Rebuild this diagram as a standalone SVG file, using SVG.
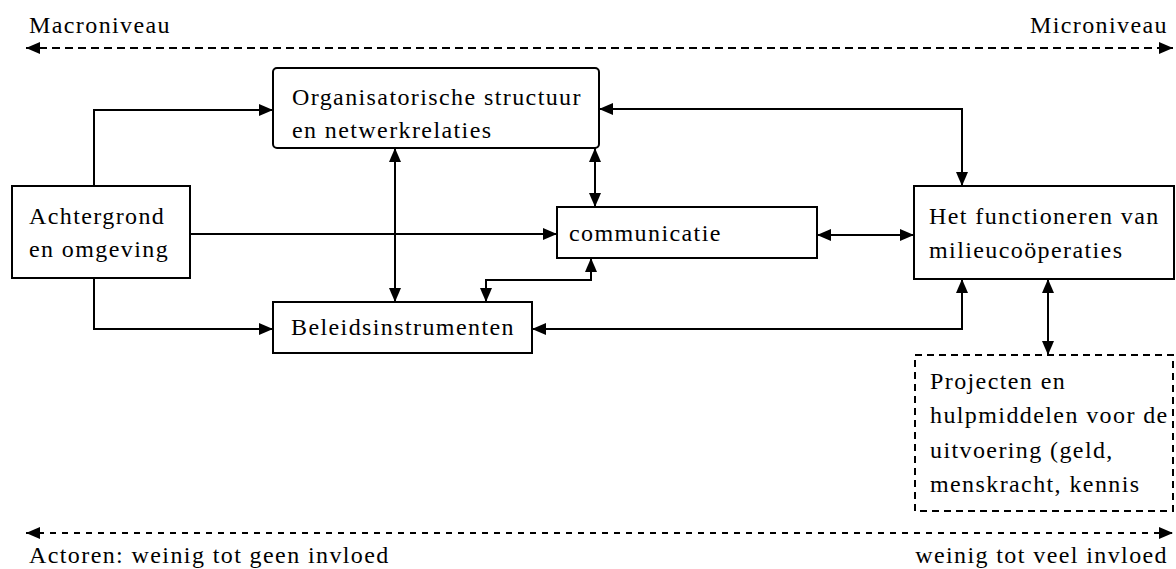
<svg xmlns="http://www.w3.org/2000/svg" width="1176" height="569" viewBox="0 0 1176 569">
<style>
text{font-family:'Liberation Serif', 'Times New Roman', Times, serif;font-size:24px;letter-spacing:1.4px;fill:#000}
.box{fill:#fff;stroke:#000;stroke-width:2}
.dbox{fill:#fff;stroke:#000;stroke-width:2;stroke-dasharray:7 5}
.c{fill:none;stroke:#000;stroke-width:2}
.d{fill:none;stroke:#000;stroke-width:2;stroke-dasharray:8 5}
.d2{fill:none;stroke:#000;stroke-width:2;stroke-dasharray:6 6}
</style>
<defs>
<marker id="ah" markerUnits="userSpaceOnUse" markerWidth="14" markerHeight="12" refX="14" refY="6" orient="auto-start-reverse" viewBox="0 0 14 12">
<path d="M0,0 L14,6 L0,12 Z" fill="#000" stroke="none"/>
</marker>
</defs>
<rect width="1176" height="569" fill="#fff"/>
<g id="connectors">
<path class="c" d="M94,186 V110 H273" marker-end="url(#ah)"/>
<path class="c" d="M190,234 H557" marker-end="url(#ah)"/>
<path class="c" d="M94,278 V329 H273" marker-end="url(#ah)"/>
<path class="c" d="M395,148 V302" marker-start="url(#ah)" marker-end="url(#ah)"/>
<path class="c" d="M595,148 V207" marker-start="url(#ah)" marker-end="url(#ah)"/>
<path class="c" d="M591,258 V280 H486 V302" marker-start="url(#ah)" marker-end="url(#ah)"/>
<path class="c" d="M532,329 H962 V279" marker-start="url(#ah)" marker-end="url(#ah)"/>
<path class="c" d="M817,235 H914" marker-start="url(#ah)" marker-end="url(#ah)"/>
<path class="c" d="M599,109 H962 V186" marker-start="url(#ah)" marker-end="url(#ah)"/>
<path class="c" d="M1048,279 V355" marker-start="url(#ah)" marker-end="url(#ah)"/>
<path class="d" d="M26,48 H1173" marker-start="url(#ah)" marker-end="url(#ah)"/>
<path class="d2" d="M26,533 H1173" marker-start="url(#ah)" marker-end="url(#ah)"/>
</g>
<g id="labels">
<text x="29" y="33">Macroniveau</text>
<text x="1168" y="33" text-anchor="end">Microniveau</text>
<text x="29" y="563">Actoren: weinig tot geen invloed</text>
<text x="1168" y="563" text-anchor="end">weinig tot veel invloed</text>
</g>
<g id="org">
<rect class="box" x="273" y="68" width="326" height="80" rx="4"/>
<text x="292" y="105">Organisatorische structuur</text>
<text x="292" y="138">en netwerkrelaties</text>
</g>
<g id="achtergrond">
<rect class="box" x="12" y="186" width="178" height="92"/>
<text x="29" y="224">Achtergrond</text>
<text x="29" y="257">en omgeving</text>
</g>
<g id="communicatie">
<rect class="box" x="557" y="207" width="260" height="51"/>
<text x="569" y="241">communicatie</text>
</g>
<g id="beleid">
<rect class="box" x="273" y="302" width="259" height="51"/>
<text x="291" y="335">Beleidsinstrumenten</text>
</g>
<g id="functioneren">
<rect class="box" x="914" y="186" width="260" height="93"/>
<text x="929" y="224">Het functioneren van</text>
<text x="929" y="258">milieucoöperaties</text>
</g>
<g id="projecten">
<rect class="dbox" x="915" y="355" width="258" height="156"/>
<text x="930" y="389">Projecten en</text>
<text x="930" y="423">hulpmiddelen voor de</text>
<text x="930" y="458">uitvoering (geld,</text>
<text x="930" y="492">menskracht, kennis</text>
</g>
</svg>
